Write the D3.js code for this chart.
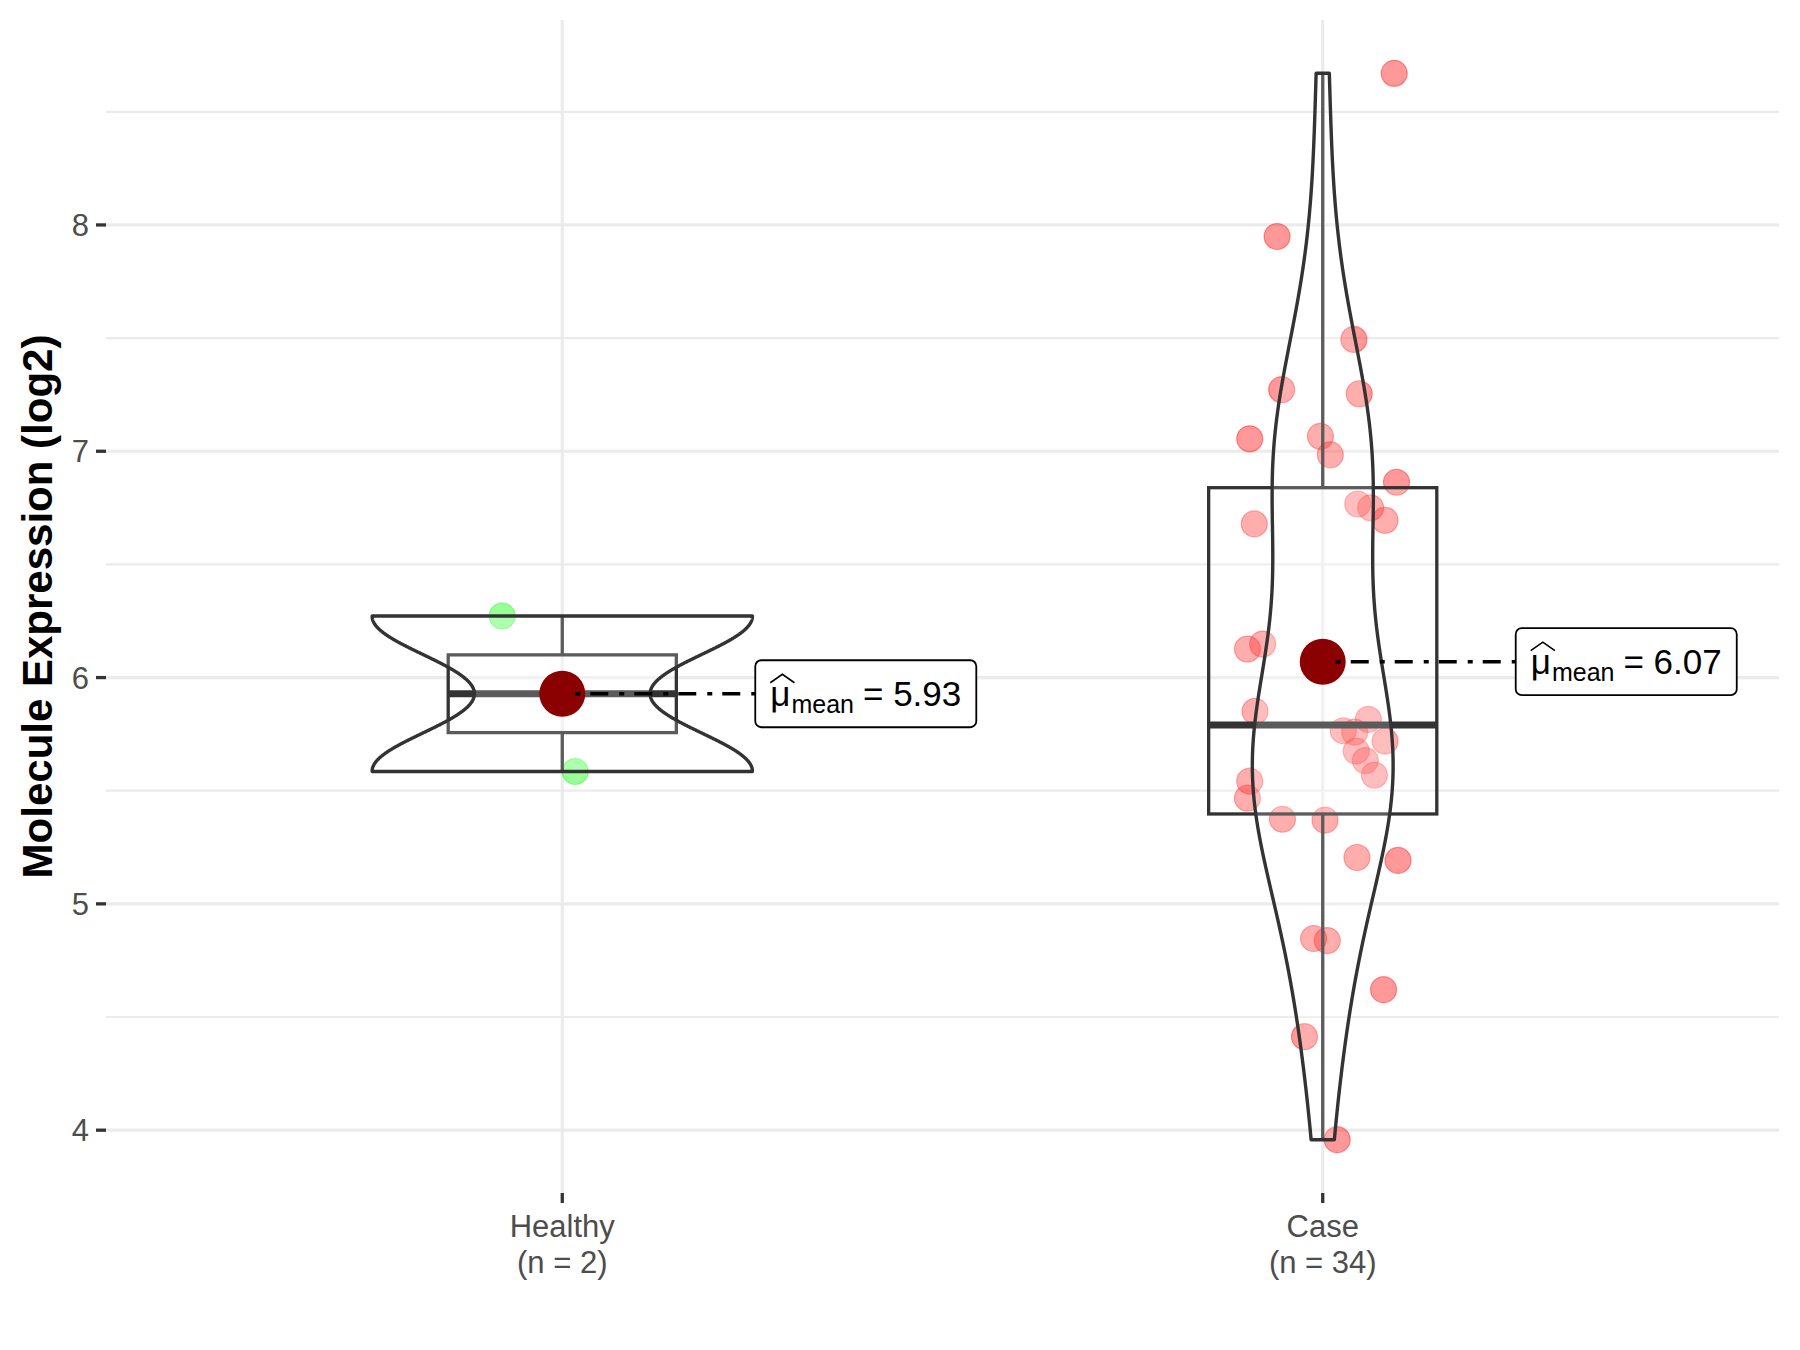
<!DOCTYPE html>
<html><head><meta charset="utf-8">
<script src="https://cdn.jsdelivr.net/npm/d3@7"></script>
<style>body{margin:0;background:#fff;} svg{display:block;font-family:"Liberation Sans",Arial,Helvetica,sans-serif;}</style>
</head><body>
<svg id="chart" width="1800" height="1350"></svg>
<script>
// ---------------- data ----------------
const categories = ["Healthy", "Case"];
const categoryLabels = [["Healthy", "(n = 2)"], ["Case", "(n = 34)"]];
const healthyValues = [6.272, 5.585];
const healthyJitter = [-0.079, 0.017];
const caseValues = [8.670, 7.949, 7.494, 7.272, 7.254, 7.055, 7.066, 6.984, 6.863, 6.767, 6.750, 6.695, 6.679,
  6.126, 6.148, 5.851, 5.765, 5.815, 5.759, 5.719, 5.675, 5.633, 5.569, 5.542, 5.467, 5.374, 5.370,
  5.205, 5.192, 4.847, 4.838, 4.621, 4.413, 3.958];
const caseJitter = [0.094, -0.060, 0.041, -0.054, 0.048, -0.096, -0.003, 0.010, 0.097, 0.046, 0.063, 0.082, -0.090,
  -0.099, -0.079, -0.089, 0.027, 0.060, 0.042, 0.082, 0.044, 0.056, 0.068, -0.096, -0.099, -0.053, 0.003,
  0.045, 0.099, -0.012, 0.006, 0.080, -0.024, 0.019];
const yTicks = [4, 5, 6, 7, 8];
const yMinorTicks = [4.5, 5.5, 6.5, 7.5, 8.5];
const yTitle = "Molecule Expression (log2)";

// ---------------- styles ----------------
const pointColors = ["#00ff00", "#ff0000"];
const panel = {left: 106, right: 1779, top: 20, bottom: 1193};

const svg = d3.select("#chart");
const groups = categories.map((c, i) => ({
  name: c,
  values: [healthyValues, caseValues][i],
  jitter: [healthyJitter, caseJitter][i],
  color: pointColors[i],
  idx: i + 1
}));

// scales
const allVals = groups.flatMap(g => g.values);
const [vmin, vmax] = d3.extent(allVals);
const pad = (vmax - vmin) * 0.05;
const y = d3.scaleLinear().domain([vmin - pad, vmax + pad]).range([panel.bottom, panel.top]);
const x = d3.scaleLinear().domain([0.4, categories.length + 0.6]).range([panel.left, panel.right]);
const unit = x(1) - x(0);

// gridlines
const grid = svg.append("g");
grid.selectAll("line.minor").data(yMinorTicks.filter(t => t >= y.domain()[0] && t <= y.domain()[1]))
  .join("line").attr("x1", panel.left).attr("x2", panel.right)
  .attr("y1", d => y(d)).attr("y2", d => y(d)).attr("stroke", "#ebebeb").attr("stroke-width", 2.2);
grid.selectAll("line.major").data(yTicks).join("line")
  .attr("x1", panel.left).attr("x2", panel.right)
  .attr("y1", d => y(d)).attr("y2", d => y(d)).attr("stroke", "#ebebeb").attr("stroke-width", 3.2);
grid.selectAll("line.vx").data(groups).join("line")
  .attr("x1", d => x(d.idx)).attr("x2", d => x(d.idx))
  .attr("y1", panel.top).attr("y2", panel.bottom).attr("stroke", "#ebebeb").attr("stroke-width", 3.2);

// stats
function bwNrd0(s) {
  const sd = d3.deviation(s);
  const iqr = d3.quantileSorted(s, 0.75) - d3.quantileSorted(s, 0.25);
  let lo = Math.min(sd, iqr / 1.34);
  if (!(lo > 0)) lo = sd || Math.abs(s[0]) || 1;
  return 0.9 * lo * Math.pow(s.length, -0.2);
}
groups.forEach(g => {
  const s = g.values.slice().sort(d3.ascending);
  g.q1 = d3.quantileSorted(s, 0.25);
  g.med = d3.quantileSorted(s, 0.5);
  g.q3 = d3.quantileSorted(s, 0.75);
  const iqr = g.q3 - g.q1;
  g.lowW = d3.min(s.filter(v => v >= g.q1 - 1.5 * iqr));
  g.highW = d3.max(s.filter(v => v <= g.q3 + 1.5 * iqr));
  g.mean = d3.mean(s);
  const bw = bwNrd0(s);
  const n = 512;
  const gridV = d3.range(n).map(i => s[0] + (s[s.length - 1] - s[0]) * i / (n - 1));
  g.dens = gridV.map(v => ({v, d: d3.mean(s, xi => Math.exp(-0.5 * ((v - xi) / bw) ** 2)) / (bw * Math.sqrt(2 * Math.PI))}));
});
const maxDens = d3.max(groups, g => d3.max(g.dens, e => e.d));

// points
const pts = svg.append("g");
groups.forEach(g => {
  pts.selectAll(null).data(g.values.map((v, i) => ({v, j: g.jitter[i]}))).join("circle")
    .attr("cx", d => x(g.idx + d.j)).attr("cy", d => y(d.v)).attr("r", 13)
    .attr("fill", g.color).attr("fill-opacity", 0.4)
    .attr("stroke", g.color).attr("stroke-opacity", 0.4).attr("stroke-width", 1.2);
});

// boxplots
const box = svg.append("g");
const boxHalf = 0.15 * unit;
groups.forEach(g => {
  const cx = x(g.idx);
  box.append("line").attr("x1", cx).attr("x2", cx).attr("y1", y(g.q3)).attr("y2", y(g.highW))
    .attr("stroke", "#333").attr("stroke-width", 3.3);
  box.append("line").attr("x1", cx).attr("x2", cx).attr("y1", y(g.q1)).attr("y2", y(g.lowW))
    .attr("stroke", "#333").attr("stroke-width", 3.3);
  box.append("rect").attr("x", cx - boxHalf).attr("width", 2 * boxHalf)
    .attr("y", y(g.q3)).attr("height", y(g.q1) - y(g.q3))
    .attr("fill", "#fff").attr("fill-opacity", 0.2)
    .attr("stroke", "#333").attr("stroke-width", 3.3);
  box.append("line").attr("x1", cx - boxHalf).attr("x2", cx + boxHalf).attr("y1", y(g.med)).attr("y2", y(g.med))
    .attr("stroke", "#333").attr("stroke-width", 7);
});

// violins
const vio = svg.append("g");
const vHalf = 0.25 * unit;
groups.forEach(g => {
  const cx = x(g.idx);
  const left = g.dens.map(e => [cx - e.d / maxDens * vHalf, y(e.v)]);
  const right = g.dens.slice().reverse().map(e => [cx + e.d / maxDens * vHalf, y(e.v)]);
  vio.append("path").attr("d", d3.line()(left.concat(right)) + "Z")
    .attr("fill", "#fff").attr("fill-opacity", 0.2)
    .attr("stroke", "#333").attr("stroke-width", 3.4).attr("stroke-linejoin", "round");
});

// mean point, connector and label
const fmt = d3.format(".2f");
const ann = svg.append("g");
groups.forEach(g => {
  const cx = x(g.idx), cy = y(g.mean);
  ann.append("circle").attr("cx", cx).attr("cy", cy).attr("r", 23).attr("fill", "#8b0000");
  const lx = cx + 193;
  ann.append("line").attr("x1", cx + 13).attr("x2", lx).attr("y1", cy).attr("y2", cy)
    .attr("stroke", "#000").attr("stroke-width", 3.6).attr("stroke-dasharray", "5,10,18,11");
  const lab = ann.append("g").attr("transform", `translate(${lx},${cy})`);
  const rect = lab.append("rect").attr("y", -33.5).attr("height", 67).attr("rx", 6)
    .attr("fill", "#fff").attr("stroke", "#000").attr("stroke-width", 1.8);
  const padX = 15, base = 12.5;
  const mu = lab.append("text").attr("x", padX).attr("y", base).style("font-size", "35px").attr("fill", "#000").text("μ");
  const muW = mu.node().getComputedTextLength();
  lab.append("path")
    .attr("d", `M${padX},${base - 23.5} L${padX + (muW + 4) / 2},${base - 32} L${padX + muW + 4},${base - 23.5}`)
    .attr("fill", "none").attr("stroke", "#000").attr("stroke-width", 1.6);
  const subX = padX + muW + 1;
  const sub = lab.append("text").attr("x", subX).attr("y", base + 7).style("font-size", "25px").attr("fill", "#000").text("mean");
  const subW = sub.node().getComputedTextLength();
  const restX = subX + subW + 9;
  const rest = lab.append("text").attr("x", restX).attr("y", base).style("font-size", "35px").attr("fill", "#000")
    .text("= " + fmt(g.mean));
  const restW = rest.node().getComputedTextLength();
  rect.attr("width", restX + restW + padX);
});

// axes
const axG = svg.append("g");
axG.selectAll("line.yt").data(yTicks).join("line")
  .attr("x1", panel.left - 10).attr("x2", panel.left).attr("y1", d => y(d)).attr("y2", d => y(d))
  .attr("stroke", "#333").attr("stroke-width", 3.3);
axG.selectAll("text.yt").data(yTicks).join("text")
  .attr("x", panel.left - 17).attr("y", d => y(d)).attr("dy", "0.36em")
  .attr("text-anchor", "end").style("font-size", "31px").attr("fill", "#4d4d4d").text(d => d);
axG.selectAll("line.xt").data(groups).join("line")
  .attr("x1", d => x(d.idx)).attr("x2", d => x(d.idx)).attr("y1", panel.bottom).attr("y2", panel.bottom + 10)
  .attr("stroke", "#333").attr("stroke-width", 3.3);
groups.forEach((g, i) => {
  const t = axG.append("text").attr("text-anchor", "middle").style("font-size", "31px").attr("fill", "#4d4d4d");
  categoryLabels[i].forEach((line, k) => {
    t.append("tspan").attr("x", x(g.idx)).attr("y", 1237 + k * 36).text(line);
  });
});
svg.append("text").attr("transform", `translate(52,${(panel.top + panel.bottom) / 2}) rotate(-90)`)
  .attr("text-anchor", "middle").style("font-size", "42px").style("font-weight", "bold").attr("fill", "#000")
  .text(yTitle);
</script>
</body></html>
